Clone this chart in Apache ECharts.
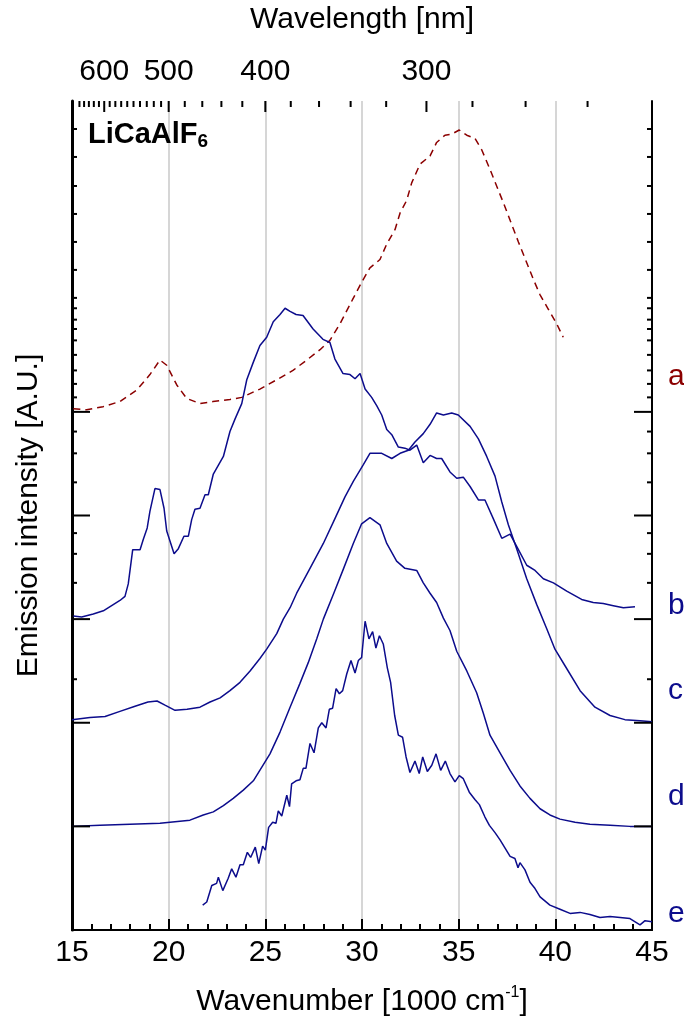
<!DOCTYPE html>
<html><head><meta charset="utf-8">
<script src="https://cdn.jsdelivr.net/npm/echarts@6/dist/echarts.min.js"></script>
<style>html,body{margin:0;padding:0;background:#fff}#c{width:684px;height:1022px}</style>
</head><body><div id="c"></div>
<script>
// ---- data (x: wavenumber [1000 cm-1], y: offset intensity, arbitrary units) ----
const curveA = [[15.07,5.03],[15.76,5.02],[16.60,5.05],[17.48,5.10],[18.35,5.21],[19.03,5.36],[19.55,5.50],[19.90,5.45],[20.42,5.26],[20.93,5.13],[21.62,5.08],[22.29,5.10],[23.17,5.12],[23.78,5.14],[24.72,5.22],[25.59,5.31],[26.43,5.40],[27.14,5.50],[27.83,5.60],[28.34,5.69],[28.86,5.85],[29.53,6.09],[29.98,6.25],[30.41,6.39],[30.93,6.47],[31.28,6.62],[31.71,6.76],[31.97,6.92],[32.31,7.04],[32.57,7.21],[33.00,7.39],[33.52,7.47],[33.86,7.60],[34.29,7.67],[34.64,7.68],[35.03,7.72],[35.42,7.67],[35.84,7.64],[36.19,7.53],[36.62,7.34],[37.05,7.14],[37.31,7.02],[37.66,6.85],[38.09,6.64],[38.52,6.44],[38.86,6.28],[39.21,6.13],[39.64,5.99],[40.07,5.85],[40.41,5.72]];
const curveB = [[15.07,3.03],[15.50,3.02],[16.10,3.05],[16.62,3.08],[17.05,3.13],[17.48,3.18],[17.74,3.22],[17.91,3.34],[18.14,3.67],[18.52,3.67],[18.69,3.77],[18.89,3.88],[19.03,4.04],[19.29,4.26],[19.55,4.25],[19.76,4.07],[19.90,3.85],[20.28,3.63],[20.50,3.68],[20.79,3.80],[21.02,3.80],[21.19,3.96],[21.36,4.06],[21.62,4.07],[21.88,4.20],[22.05,4.20],[22.31,4.40],[22.83,4.57],[23.17,4.81],[23.43,4.93],[23.78,5.08],[24.04,5.31],[24.38,5.48],[24.72,5.64],[25.07,5.72],[25.41,5.87],[25.76,5.94],[26.02,6.00],[26.28,5.97],[26.59,5.94],[26.95,5.93],[27.47,5.80],[27.98,5.70],[28.34,5.67],[28.60,5.51],[29.02,5.37],[29.38,5.36],[29.64,5.32],[29.90,5.37],[30.16,5.22],[30.50,5.14],[30.76,5.06],[31.02,4.97],[31.28,4.83],[31.54,4.78],[31.88,4.66],[32.22,4.65],[32.48,4.63],[32.83,4.68],[33.17,4.51],[33.52,4.58],[33.86,4.55],[34.12,4.55],[34.55,4.42],[34.90,4.36],[35.24,4.37],[35.59,4.28],[36.02,4.15],[36.36,4.15],[36.79,3.97],[37.23,3.78],[37.66,3.82],[38.09,3.67],[38.52,3.52],[38.95,3.47],[39.38,3.39],[39.90,3.35],[40.59,3.27],[41.36,3.19],[41.96,3.16],[42.48,3.15],[43.00,3.13],[43.52,3.11],[44.12,3.12]];
const curveC = [[15.00,2.03],[15.93,2.05],[16.71,2.06],[17.48,2.11],[18.26,2.16],[18.93,2.20],[19.40,2.21],[19.81,2.17],[20.33,2.12],[20.95,2.13],[21.62,2.15],[22.14,2.20],[22.66,2.24],[23.17,2.31],[23.69,2.39],[24.21,2.50],[24.72,2.62],[25.07,2.71],[25.59,2.86],[25.93,3.00],[26.28,3.11],[26.62,3.25],[27.31,3.49],[28.00,3.73],[28.60,3.97],[29.12,4.18],[29.55,4.33],[30.07,4.49],[30.41,4.60],[31.02,4.60],[31.54,4.55],[31.97,4.60],[32.40,4.63],[32.74,4.71],[33.17,4.79],[33.52,4.88],[33.86,4.99],[34.21,4.97],[34.64,4.99],[34.98,4.97],[35.59,4.86],[36.02,4.74],[36.45,4.57],[36.88,4.38],[37.23,4.13],[37.57,3.91],[38.00,3.68],[38.52,3.39],[39.04,3.14],[39.55,2.91],[39.98,2.71],[40.50,2.55],[41.28,2.31],[42.05,2.15],[42.83,2.07],[43.60,2.03],[44.38,2.02],[45.00,2.01]];
const curveD = [[15.00,1.00],[16.45,1.01],[18.00,1.02],[19.55,1.03],[21.10,1.06],[21.79,1.11],[22.31,1.14],[22.83,1.20],[23.34,1.27],[23.86,1.35],[24.38,1.44],[24.81,1.57],[25.24,1.70],[25.76,1.91],[26.28,2.15],[26.79,2.38],[27.22,2.58],[27.66,2.81],[28.00,3.00],[28.52,3.24],[29.03,3.48],[29.55,3.73],[29.98,3.92],[30.41,3.98],[30.93,3.91],[31.28,3.73],[31.79,3.56],[32.22,3.49],[32.83,3.47],[33.17,3.35],[33.52,3.25],[33.86,3.16],[34.21,3.01],[34.55,2.89],[34.90,2.69],[35.42,2.50],[35.93,2.29],[36.28,2.09],[36.62,1.88],[37.14,1.71],[37.66,1.54],[38.17,1.39],[38.69,1.27],[39.21,1.17],[39.72,1.11],[40.24,1.07],[41.02,1.04],[41.79,1.02],[42.83,1.01],[43.86,1.00],[45.00,1.00]];
const curveE = [[21.76,0.24],[21.97,0.27],[22.23,0.43],[22.48,0.45],[22.57,0.51],[22.80,0.38],[23.08,0.50],[23.26,0.59],[23.48,0.51],[23.69,0.63],[23.86,0.63],[24.07,0.75],[24.24,0.70],[24.48,0.80],[24.66,0.64],[24.86,0.81],[25.00,0.77],[25.17,0.99],[25.38,1.04],[25.55,1.03],[25.67,1.15],[25.85,1.10],[26.11,1.30],[26.25,1.19],[26.36,1.41],[26.59,1.44],[26.79,1.45],[26.96,1.56],[27.10,1.56],[27.31,1.80],[27.52,1.71],[27.74,1.95],[27.92,2.00],[28.14,1.95],[28.31,2.13],[28.48,2.14],[28.66,2.33],[28.83,2.28],[29.00,2.31],[29.21,2.47],[29.43,2.60],[29.64,2.48],[29.81,2.60],[29.98,2.63],[30.16,2.98],[30.36,2.81],[30.55,2.88],[30.72,2.72],[30.90,2.84],[31.10,2.76],[31.31,2.53],[31.48,2.39],[31.69,2.07],[31.88,1.88],[32.10,1.86],[32.28,1.67],[32.48,1.52],[32.74,1.63],[32.96,1.51],[33.14,1.67],[33.38,1.53],[33.61,1.59],[33.83,1.70],[34.07,1.54],[34.31,1.63],[34.55,1.51],[34.81,1.43],[35.03,1.49],[35.24,1.46],[35.55,1.33],[35.84,1.26],[36.07,1.21],[36.36,1.09],[36.59,1.01],[36.88,0.94],[37.14,0.87],[37.40,0.79],[37.66,0.71],[37.91,0.69],[38.07,0.60],[38.17,0.65],[38.43,0.58],[38.69,0.46],[38.95,0.40],[39.21,0.32],[39.72,0.24],[40.24,0.20],[40.76,0.16],[41.28,0.17],[41.79,0.15],[42.31,0.12],[42.83,0.13],[43.35,0.12],[43.86,0.11],[44.38,0.05],[44.64,0.09],[45.00,0.08]];

const curveLetters = ['a','b','c','d','e'];
const letterLevels = [5.34, 3.13, 2.31, 1.29, 0.16];

const topMajorNm = [600, 500, 400, 300];
const topMinorNm = [650,640,630,620,610,590,580,570,560,550,540,530,520,510,480,460,440,420,380,360,340,320,280,260,240];
const yMajorTicks = [1, 2, 3, 4, 5];
const yMinorTicks = [7.73,7.46,7.18,6.91,6.64,6.37,6.10,6.00,5.89,5.80,5.69,5.55,5.40,5.27,5.14,4.81,4.60,4.32,3.83,3.63,3.35,2.42];

// ---- chart ----
const FONT = '"Liberation Sans", Arial, sans-serif';
const NAVY = '#0c0c8c';
const DARKRED = '#8b0000';
const Y_MAX = 8, X_MIN = 15, X_MAX = 45;

const tickData = [
  ...topMajorNm.map(nm => [1e4 / nm, Y_MAX, 0]),
  ...topMinorNm.map(nm => [1e4 / nm, Y_MAX, 1]),
  ...yMajorTicks.map(v => [X_MIN, v, 2]),
  ...yMinorTicks.map(v => [X_MIN, v, 3])
];

function renderTick(params, api) {
  const kind = api.value(2);
  const cs = params.coordSys;
  const st = { stroke: '#000', lineWidth: 2 };
  if (kind < 2) {
    const p = api.coord([api.value(0), Y_MAX]);
    const len = kind === 0 ? 11 : 6;
    return { type: 'line', shape: { x1: p[0], y1: cs.y, x2: p[0], y2: cs.y + len }, style: st };
  }
  const p = api.coord([X_MIN, api.value(1)]);
  const len = kind === 2 ? 18 : 5;
  return { type: 'group', children: [
    { type: 'line', shape: { x1: cs.x, y1: p[1], x2: cs.x + len, y2: p[1] }, style: st },
    { type: 'line', shape: { x1: cs.x + cs.width, y1: p[1], x2: cs.x + cs.width - len, y2: p[1] }, style: st }
  ]};
}

function renderLetter(params, api) {
  const idx = api.value(2);
  const p = api.coord([X_MAX, api.value(1)]);
  return { type: 'text', x: p[0] + 16, y: p[1],
    style: { text: curveLetters[idx], fill: idx === 0 ? DARKRED : NAVY, font: '30px ' + FONT,
             textAlign: 'left', textVerticalAlign: 'middle' } };
}

function lineSeries(name, data, color, dashed) {
  return { name, type: 'line', data, showSymbol: false, symbol: 'none', smooth: false,
    lineStyle: { color, width: 1.5, type: dashed ? [7, 5] : 'solid' }, z: 3, silent: true };
}

const chart = echarts.init(document.getElementById('c'), null, { renderer: 'canvas' });
chart.setOption({
  animation: false,
  backgroundColor: '#fff',
  grid: { left: 72, right: 32, top: 97, bottom: 92, containLabel: false },
  xAxis: [
    { type: 'value', min: X_MIN, max: X_MAX, interval: 5, position: 'bottom',
      axisLine: { show: true, lineStyle: { color: '#000', width: 2 } },
      axisTick: { show: true, inside: true, length: 11, lineStyle: { color: '#000', width: 2 } },
      minorTick: { show: true, splitNumber: 5, length: 6, lineStyle: { color: '#000', width: 2 } },
      axisLabel: { fontSize: 30, color: '#000', fontFamily: FONT, margin: 8 },
      splitLine: { show: true, lineStyle: { color: '#c8c8c8', width: 1.5 } },
      name: '{t|Wavenumber [1000 cm}{s|-1}{t|]}', nameLocation: 'middle', nameGap: 55,
      nameTextStyle: { rich: {
        t: { fontSize: 30, fontFamily: FONT, color: '#000', lineHeight: 34 },
        s: { fontSize: 16, fontFamily: FONT, color: '#000', verticalAlign: 'top', lineHeight: 34, padding: [0, 0, 14, 0] } } } },
    { type: 'value', min: X_MIN, max: X_MAX, interval: 5 / 3, position: 'top',
      axisLine: { show: true, lineStyle: { color: '#000', width: 2 } },
      axisTick: { show: false }, splitLine: { show: false },
      axisLabel: { fontSize: 30, color: '#000', fontFamily: FONT, margin: 14,
        formatter: v => { const nm = 1e4 / v; const r = Math.round(nm);
          return (topMajorNm.includes(r) && Math.abs(nm - r) < 0.5) ? String(r) : ''; } },
      name: 'Wavelength [nm]', nameLocation: 'middle', nameGap: 66,
      nameTextStyle: { fontSize: 30, fontFamily: FONT, color: '#000' } }
  ],
  yAxis: [
    { type: 'value', min: 0, max: Y_MAX, interval: 1, position: 'left',
      axisLine: { show: true, lineStyle: { color: '#000', width: 3 } },
      axisTick: { show: false }, axisLabel: { show: false }, splitLine: { show: false },
      name: 'Emission intensity [A.U.]', nameLocation: 'middle', nameGap: 28, nameRotate: 90,
      nameTextStyle: { fontSize: 30, fontFamily: FONT, color: '#000' } },
    { type: 'value', min: 0, max: Y_MAX, interval: 1, position: 'right',
      axisLine: { show: true, lineStyle: { color: '#000', width: 2 } },
      axisTick: { show: false }, axisLabel: { show: false }, splitLine: { show: false } }
  ],
  series: [
    lineSeries('a', curveA, DARKRED, true),
    lineSeries('b', curveB, NAVY, false),
    lineSeries('c', curveC, NAVY, false),
    lineSeries('d', curveD, NAVY, false),
    lineSeries('e', curveE, NAVY, false),
    { type: 'custom', name: 'ticks', renderItem: renderTick, data: tickData, clip: false, z: 5, silent: true },
    { type: 'custom', name: 'letters', renderItem: renderLetter,
      data: letterLevels.map((v, i) => [X_MAX, v, i]), clip: false, z: 5, silent: true }
  ],
  graphic: [
    { type: 'text', left: 88, top: 118, z: 10,
      style: { text: '{m|LiCaAlF}{s|6}', rich: {
        m: { fontSize: 29, fontWeight: 'bold', fontFamily: FONT, fill: '#000', lineHeight: 36 },
        s: { fontSize: 19, fontWeight: 'bold', fontFamily: FONT, fill: '#000', lineHeight: 36, padding: [14, 0, 0, 0] } } } }
  ]
});
</script>
</body></html>
